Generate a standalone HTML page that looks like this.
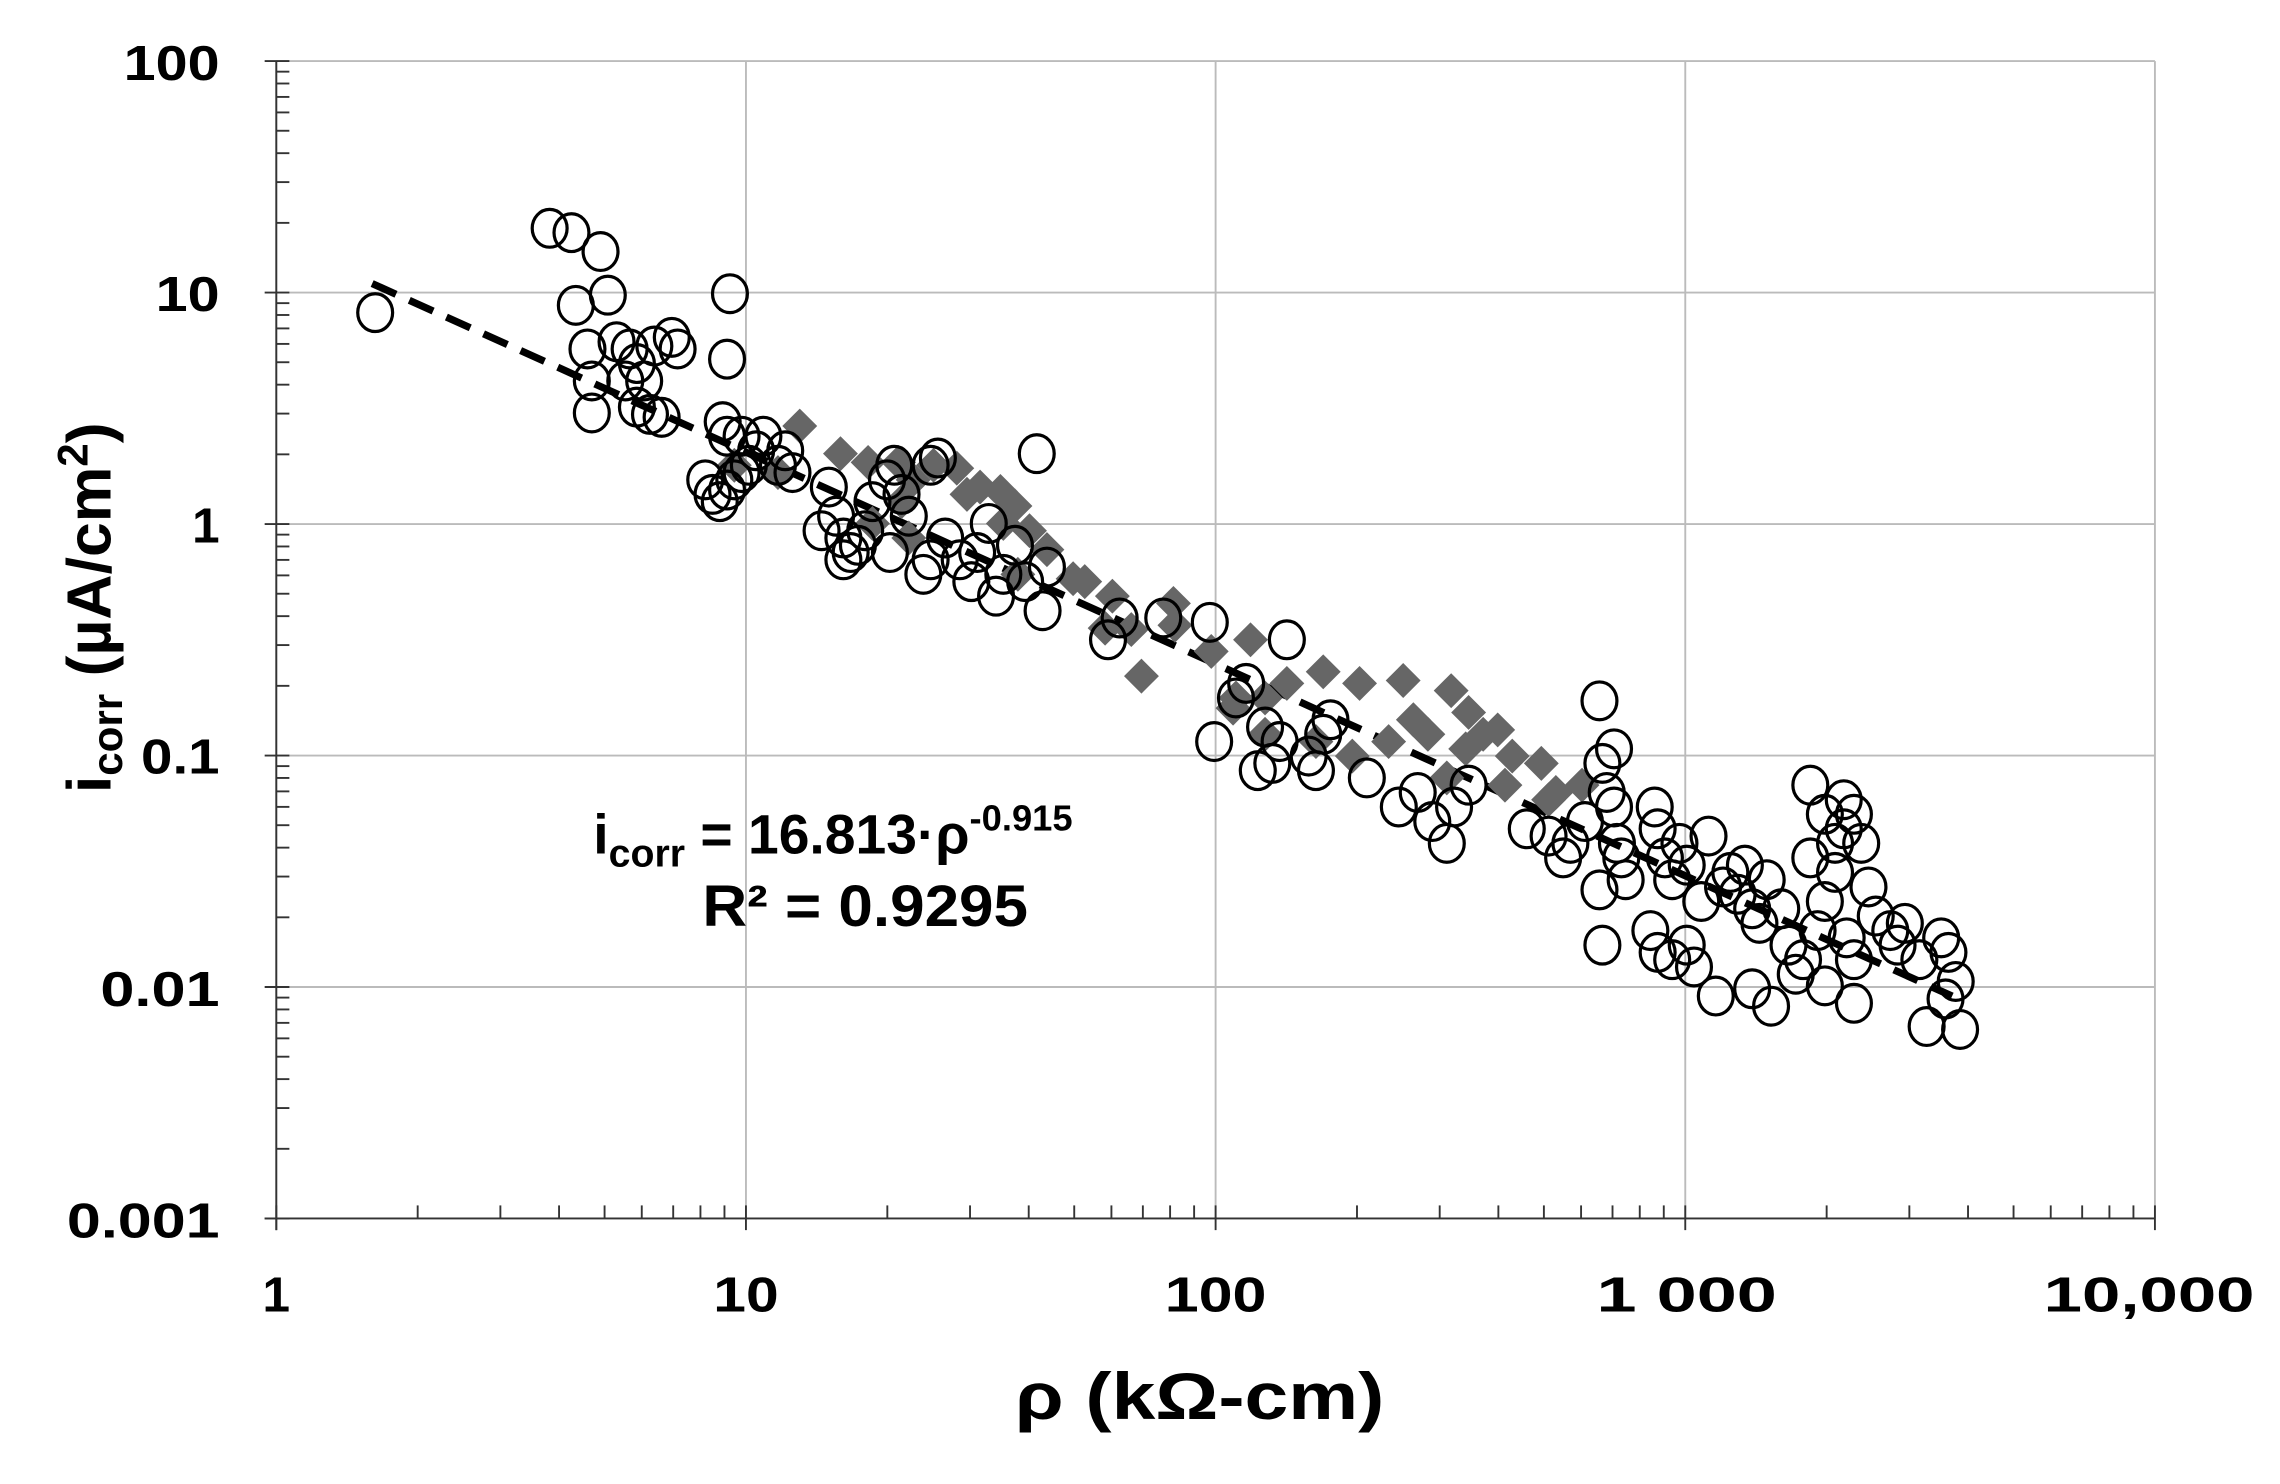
<!DOCTYPE html>
<html><head><meta charset="utf-8"><style>
html,body{margin:0;padding:0;background:#fff;width:2280px;height:1484px;overflow:hidden}
svg{display:block}
text{font-family:"Liberation Sans",Arial,sans-serif;font-weight:bold;fill:#000}
</style></head><body>
<svg id="s" width="2280" height="1484" viewBox="0 0 1568 1020.6" xmlns="http://www.w3.org/2000/svg">
<g id="grid" stroke="#bbb" stroke-width="1.3"></g>
<g id="ticks" stroke="#333" stroke-width="1.3"></g>
<g font-size="34" text-anchor="end">
<text x="151" y="55" textLength="66" lengthAdjust="spacingAndGlyphs">100</text>
<text x="151" y="214" textLength="44" lengthAdjust="spacingAndGlyphs">10</text>
<text x="151" y="373">1</text>
<text x="151" y="532" textLength="54" lengthAdjust="spacingAndGlyphs">0.1</text>
<text x="151" y="692" textLength="82" lengthAdjust="spacingAndGlyphs">0.01</text>
<text x="151" y="851" textLength="105" lengthAdjust="spacingAndGlyphs">0.001</text>
</g>
<g font-size="34" text-anchor="middle">
<text x="190" y="902">1</text>
<text x="513" y="902" textLength="45" lengthAdjust="spacingAndGlyphs">10</text>
<text x="836" y="902" textLength="70" lengthAdjust="spacingAndGlyphs">100</text>
<text x="1160" y="902" textLength="124" lengthAdjust="spacingAndGlyphs">1 000</text>
<text x="1478" y="902" textLength="145" lengthAdjust="spacingAndGlyphs">10,000</text>
</g>
<text x="825" y="976" font-size="45" text-anchor="middle" textLength="254" lengthAdjust="spacingAndGlyphs">ρ (kΩ-cm)</text>
<text transform="translate(76,418) rotate(-90)" font-size="43" text-anchor="middle">i<tspan font-size="29" dy="8">corr</tspan><tspan dy="-8"> (µA/cm</tspan><tspan font-size="29" dy="-16">2</tspan><tspan dy="16">)</tspan></text>
<text x="408" y="587" font-size="38">i<tspan font-size="27" dy="9">corr</tspan><tspan dy="-9"> = 16.813·ρ</tspan><tspan font-size="25" dy="-16">-0.915</tspan></text>
<text x="483" y="637" font-size="40" textLength="224" lengthAdjust="spacingAndGlyphs">R² = 0.9295</text>
<line id="trend" stroke="#000" stroke-width="5" stroke-dasharray="18,10"/>
<g id="dia" fill="#666"></g>
<g id="cir" fill="none" stroke="#000" stroke-width="2.2"></g>
</svg>
<script>
var NS="http://www.w3.org/2000/svg";
function el(p,t,a){var e=document.createElementNS(NS,t);for(var k in a)e.setAttribute(k,a[k]);document.getElementById(p).appendChild(e);}
var X0=190,DX=323,Y0=42,DY=159.2;
function X(v){return X0+DX*Math.log10(v)}
function Y(v){return Y0+DY*(2-Math.log10(v))}
for(var i=0;i<=4;i++)el("grid","line",{x1:X0+DX*i,x2:X0+DX*i,y1:Y0,y2:838});
for(var j=0;j<=5;j++)el("grid","line",{x1:X0,x2:1482,y1:Y0+DY*j,y2:Y0+DY*j});
el("ticks","line",{x1:X0,x2:X0,y1:Y0,y2:846});
el("ticks","line",{x1:182,x2:1482,y1:838,y2:838});
for(var d=0;d<5;d++)for(var m=2;m<=9;m++){var y=Y0+DY*(d+1)-DY*Math.log10(m);el("ticks","line",{x1:X0,x2:X0+9,y1:y,y2:y});}
for(var j=0;j<=5;j++)el("ticks","line",{x1:182,x2:X0+9,y1:Y0+DY*j,y2:Y0+DY*j});
for(var d=0;d<4;d++)for(var m=2;m<=9;m++){var x=X0+DX*d+DX*Math.log10(m);el("ticks","line",{x1:x,x2:x,y1:838,y2:829});}
for(var i=0;i<=4;i++)el("ticks","line",{x1:X0+DX*i,x2:X0+DX*i,y1:829,y2:846});
var t=document.getElementById("trend");
t.setAttribute("x1",X(1.6));t.setAttribute("y1",Y(16.813*Math.pow(1.6,-0.915)));
t.setAttribute("x2",X(3700));t.setAttribute("y2",Y(16.813*Math.pow(3700,-0.915)));
var D=[[550,293],[578,312],[597,318],[618,318],[628,330],[642,320],[658,322],[665,340],[674,335],[688,338],[698,348],[708,365],[720,378],[738,398],[746,400],[765,410],[785,465],[778,433],[807,415],[808,430],[833,448],[860,440],[885,470],[910,462],[935,470],[965,468],[972,495],[998,475],[1008,515],[1020,505],[1030,502],[1035,540],[1060,525],[1065,550],[1070,545],[1088,540],[505,320],[535,325],[620,345],[625,370],[600,360],[690,360],[700,395],[760,432],[848,487],[955,510],[995,535],[930,520],[982,505],[1040,520],[1010,490],[850,480],[870,480],[870,505],[905,510]];
D.forEach(function(p){var r=12;el("dia","polygon",{points:(p[0])+","+(p[1]-r)+" "+(p[0]+r)+","+p[1]+" "+p[0]+","+(p[1]+r)+" "+(p[0]-r)+","+p[1]});});
var C=[[258,215],[378,157],[393,160],[413,173],[396,210],[418,203],[404,240],[424,235],[407,262],[407,284],[433,240],[438,250],[430,262],[443,262],[450,238],[462,232],[466,240],[438,280],[447,285],[455,287],[502,202],[500,247],[497,290],[485,330],[490,340],[495,345],[500,337],[505,330],[510,325],[515,320],[520,310],[500,300],[510,300],[525,300],[535,320],[540,310],[545,325],[570,335],[565,365],[575,355],[580,370],[585,380],[590,375],[595,365],[580,385],[600,345],[610,330],[615,320],[620,340],[625,355],[612,380],[640,320],[645,315],[635,395],[640,385],[650,370],[660,385],[668,400],[672,380],[680,360],[690,395],[685,410],[698,375],[705,400],[713,312],[717,420],[720,390],[762,440],[770,425],[800,425],[832,428],[835,510],[850,480],[857,470],[870,500],[865,530],[875,525],[885,440],[880,510],[900,520],[905,530],[910,505],[915,495],[940,535],[962,555],[975,545],[985,565],[995,580],[1000,555],[1010,540],[1050,570],[1065,575],[1075,590],[1080,580],[1090,565],[1100,482],[1102,525],[1105,545],[1110,555],[1112,580],[1100,612],[1102,650],[1110,515],[1115,590],[1118,605],[1138,555],[1140,570],[1145,590],[1150,605],[1155,580],[1160,595],[1135,640],[1140,655],[1150,660],[1160,650],[1165,665],[1170,620],[1175,575],[1180,685],[1185,610],[1190,600],[1195,615],[1200,595],[1205,625],[1210,635],[1215,605],[1225,625],[1230,650],[1235,670],[1240,660],[1205,680],[1218,692],[1250,640],[1255,620],[1245,590],[1262,580],[1268,570],[1262,600],[1270,645],[1275,660],[1245,540],[1255,560],[1268,550],[1275,560],[1280,580],[1285,610],[1290,630],[1300,640],[1305,650],[1310,635],[1320,660],[1335,645],[1340,655],[1345,675],[1338,687],[1325,706],[1348,708],[1275,690],[1255,678]];
C.forEach(function(p){el("cir","ellipse",{cx:p[0],cy:p[1],rx:12,ry:13});});
</script>
</body></html>
